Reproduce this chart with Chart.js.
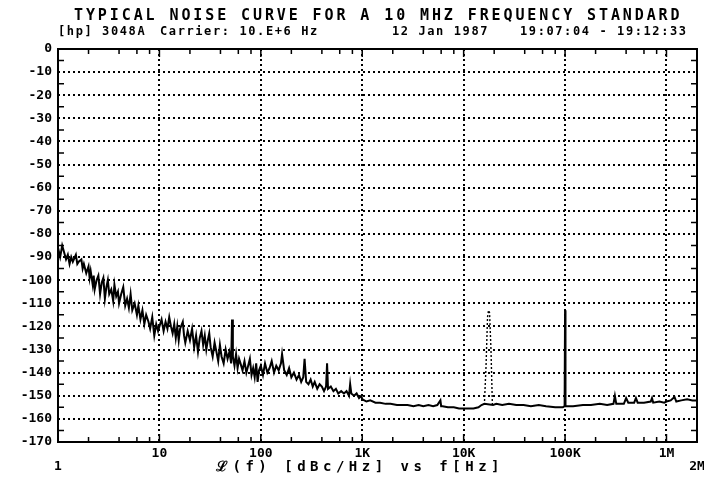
<!DOCTYPE html>
<html>
<head>
<meta charset="utf-8">
<script src="https://cdn.jsdelivr.net/npm/chart.js@4/dist/chart.umd.min.js"></script>
<style>
html, body { margin: 0; padding: 0; background: #fff; }
#wrap { width: 704px; height: 485px; }
</style>
</head>
<body>
<div id="wrap"><canvas id="noise" width="704" height="485"></canvas></div>
<script>
// phase noise trace (Hz / dBc/Hz)
const freqLow = [1, 1.05, 1.1, 1.15, 1.2, 1.25, 1.3, 1.35, 1.4, 1.5, 1.55, 1.6, 1.7, 1.75, 1.8, 1.9,
    2.0, 2.05, 2.1, 2.2, 2.25, 2.3, 2.4, 2.5, 2.6, 2.7, 2.8, 2.9, 3.0, 3.1, 3.2, 3.35, 3.5, 3.6,
    3.75, 3.9, 4.0, 4.2, 4.4, 4.6, 4.8, 5.0, 5.2, 5.4, 5.7, 6.0, 6.2, 6.5, 6.8, 7.1, 7.4, 7.8,
    8.1, 8.5, 8.9, 9.3, 9.7,
    10, 10.5, 11, 11.5, 12, 12.5, 13, 13.5, 14, 14.5, 15, 15.5, 16, 17, 17.5, 18, 19, 20, 21, 22,
    23, 24, 25, 26, 27, 28, 29, 30, 31, 32, 33.5, 35, 36.5, 38, 39.5, 41, 43, 45, 47, 49, 51, 52,
    53, 55, 57, 59, 61, 63, 66, 69, 72, 75, 78, 81, 84, 87, 90, 93, 96,
    100, 105, 110, 116, 122, 128, 135, 142, 150, 158, 162, 170, 180, 190, 200, 212, 225, 238, 250,
    262, 270, 280, 295, 310, 325, 340, 360, 380, 400, 420, 440, 450, 460, 490, 520, 550, 580, 620,
    660, 700, 740, 760, 780, 830, 880, 930, 980];
const noiseLow = [-86, -90, -85, -88, -91, -89, -93, -90, -92, -89, -93, -92, -91, -95, -93, -97,
    -94, -99, -96, -102, -98, -104, -100, -98, -106, -101, -99, -108, -103, -100, -106, -104, -109, -102,
    -107, -105, -110, -106, -103, -111, -108, -112, -106, -113, -110, -115, -111, -117, -113, -119, -115, -118,
    -121, -116, -124, -119, -122,
    -120, -117, -122, -118, -121, -116, -120, -123, -119, -125, -120, -126, -121, -118, -124, -127, -122, -126, -121, -129,
    -124, -131, -125, -122, -128, -124, -130, -126, -123, -129, -133, -127, -131, -135, -128, -133, -136, -130, -134, -131, -136, -117,
    -133, -137, -132, -138, -134, -136, -139, -135, -140, -137, -134, -141, -138, -142, -136, -144, -139,
    -137, -141, -136, -140, -138, -135, -140, -137, -139, -136, -132, -139, -141, -138, -142, -140, -143, -141, -144,
    -142, -134, -144, -145, -143, -146, -144, -147, -145, -146, -148, -146, -136, -147, -146, -148, -147, -149,
    -148, -149, -148, -150, -145, -149, -150, -149, -151, -150];

const freqHigh = [1000, 1100, 1200, 1350, 1500, 1700, 1900, 2200, 2500, 2800, 3200, 3600, 4000, 4500,
    5000, 5500, 5900, 6000, 6200, 7000, 8000, 9000, 10000, 11000, 12500, 14000, 15000, 16000, 19500,
    21000, 24000, 28000, 33000, 39000, 46000, 55000, 65000, 80000, 95000, 99000, 100000, 101000,
    120000, 150000, 180000, 220000, 260000, 300000, 310000, 320000, 380000, 400000, 420000, 480000,
    500000, 520000, 600000, 700000, 720000, 740000, 850000, 950000, 1000000, 1100000, 1200000,
    1250000, 1400000, 1600000, 1800000, 2000000];
const noiseHigh = [-151.5, -152.5, -152, -153, -153, -153.5, -153.5, -154, -154, -154, -154.5, -154, -154.5, -154,
    -154.5, -154, -152, -154.5, -154.5, -155, -155, -155.5, -155.5, -155.5, -155.5, -155, -154, -153.5, -154,
    -153.5, -154, -153.5, -154, -154, -154.5, -154, -154.5, -155, -155, -154.5, -113, -154.5,
    -154.5, -154, -154, -153.5, -154, -153.5, -150, -153.5, -153.5, -151, -153, -153,
    -151, -153, -153, -152.5, -151, -153, -152.5, -153, -152.5, -152, -150.5,
    -152.5, -152, -151.5, -152, -152];

// spur near 17.5 kHz, plotted dotted in the original
const spurFreq = [16000, 16600, 17200, 17600, 18000, 18600, 19200];
const spurNoise = [-154, -138, -116, -113, -114, -130, -154];

const yTicks = [0, -10, -20, -30, -40, -50, -60, -70, -80, -90, -100, -110, -120, -130, -140, -150, -160, -170];
const decades = [1, 10, 100, 1000, 10000, 100000, 1000000, 2000000];
const decadeLabels = ['1', '10', '100', '1K', '10K', '100K', '1M', '2M'];

const titleText = 'TYPICAL NOISE CURVE FOR A 10 MHZ FREQUENCY STANDARD';
const axisText = '\u2112(f) [dBc/Hz] vs f[Hz]';

const mono = '"DejaVu Sans Mono", "Liberation Mono", monospace';

const toPoints = (xs, ys) => xs.map((f, i) => ({ x: f, y: ys[i] }));

const framePlugin = {
    id: 'framePlugin',
    afterDraw(chart) {
        const { ctx, chartArea: a, scales: { x, y } } = chart;
        ctx.save();
        ctx.strokeStyle = '#000';
        ctx.lineWidth = 2;
        ctx.strokeRect(a.left, a.top, a.right - a.left, a.bottom - a.top);

        // inside ticks
        ctx.lineWidth = 1.5;
        ctx.beginPath();
        for (let v = -165; v < 0; v += 10) {
            const py = y.getPixelForValue(v);
            ctx.moveTo(a.left, py); ctx.lineTo(a.left + 6, py);
            ctx.moveTo(a.right, py); ctx.lineTo(a.right - 6, py);
        }
        for (let d = 1; d <= 1000000; d *= 10) {
            [2, 4, 6, 8].forEach(m => {
                const px = x.getPixelForValue(d * m);
                if (px >= a.right) return;
                ctx.moveTo(px, a.bottom); ctx.lineTo(px, a.bottom - 5);
                ctx.moveTo(px, a.top); ctx.lineTo(px, a.top + 5);
            });
            if (d > 1) {
                const px = x.getPixelForValue(d);
                ctx.moveTo(px, a.bottom); ctx.lineTo(px, a.bottom - 8);
                ctx.moveTo(px, a.top); ctx.lineTo(px, a.top + 8);
            }
        }
        ctx.stroke();

        ctx.fillStyle = '#000';
        ctx.textBaseline = 'alphabetic';
        ctx.font = 'bold 15px ' + mono;
        ctx.letterSpacing = '2.9px';
        ctx.textAlign = 'left';
        ctx.fillText(titleText, 74, 20);

        ctx.font = 'bold 12px ' + mono;
        ctx.letterSpacing = '1.6px';
        ctx.fillText('[hp] 3048A', 58, 35);
        ctx.fillText('Carrier: 10.E+6 Hz', 160, 35);
        ctx.fillText('12 Jan 1987', 392, 35);
        ctx.fillText('19:07:04 - 19:12:33', 520, 35);

        ctx.font = 'bold 13px ' + mono;
        ctx.letterSpacing = '0px';
        ctx.textAlign = 'center';
        ctx.fillText(decadeLabels[0], x.getPixelForValue(decades[0]), 470);
        ctx.fillText(decadeLabels[decadeLabels.length - 1], x.getPixelForValue(decades[decades.length - 1]), 470);

        ctx.font = 'bold 14px ' + mono;
        ctx.letterSpacing = '4.5px';
        ctx.fillText(axisText, 360, 471);
        ctx.restore();
    }
};

new Chart(document.getElementById('noise').getContext('2d'), {
    type: 'scatter',
    data: {
        datasets: [{
            data: toPoints(freqLow, noiseLow).concat(toPoints(freqHigh, noiseHigh)),
            showLine: true,
            borderColor: '#000',
            borderWidth: 2,
            pointRadius: 0,
            tension: 0
        }, {
            data: toPoints(spurFreq, spurNoise),
            showLine: true,
            borderColor: '#000',
            borderWidth: 1.4,
            borderDash: [2, 2],
            pointRadius: 0,
            tension: 0
        }]
    },
    options: {
        responsive: false,
        animation: false,
        devicePixelRatio: 1,
        layout: { padding: { top: 49, right: 7, left: 0, bottom: 0 } },
        plugins: {
            legend: { display: false },
            tooltip: { enabled: false }
        },
        scales: {
            x: {
                type: 'logarithmic',
                min: 1,
                max: 2000000,
                afterFit(scale) { scale.height = 43; scale.paddingRight = 0; scale.paddingLeft = 0; },
                afterBuildTicks(scale) {
                    scale.ticks = decades.map(v => ({ value: v }));
                },
                ticks: {
                    autoSkip: false,
                    maxRotation: 0,
                    padding: 4,
                    color: '#000',
                    font: { family: mono, size: 13, weight: 'bold' },
                    callback(value) {
                        const i = decades.indexOf(value);
                        if (i <= 0 || i === decades.length - 1) return '';
                        return decadeLabels[i];
                    }
                },
                grid: {
                    color: '#000',
                    lineWidth: 2,
                    drawTicks: false
                },
                border: { display: false, dash: [2, 3] }
            },
            y: {
                min: -170,
                max: 0,
                afterFit(scale) { scale.width = 58; },
                afterBuildTicks(scale) {
                    scale.ticks = yTicks.map(v => ({ value: v }));
                },
                ticks: {
                    padding: 6,
                    color: '#000',
                    font: { family: mono, size: 13, weight: 'bold' }
                },
                grid: {
                    color: '#000',
                    lineWidth: 2,
                    drawTicks: false
                },
                border: { display: false, dash: [2, 3] }
            }
        }
    },
    plugins: [framePlugin]
});
</script>
</body>
</html>
